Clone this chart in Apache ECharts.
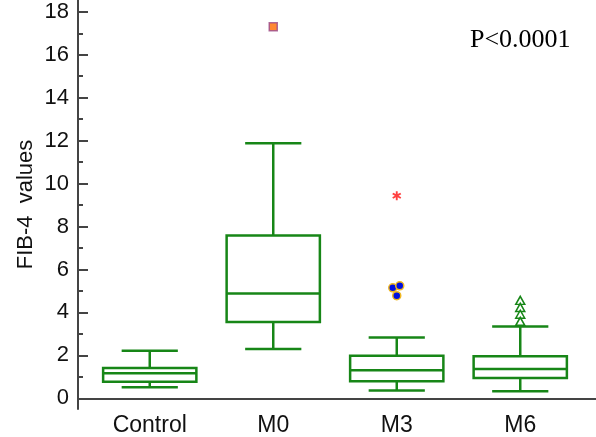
<!DOCTYPE html>
<html style="height: 100%">
<head>
<meta charset="utf-8">
<title>FIB-4</title>
<script src="https://cdn.jsdelivr.net/npm/echarts@6/dist/echarts.min.js"></script>
</head>
<body style="height: 100%; margin: 0; background-color: #fff;">
<div id="container" style="width: 596px; height: 437px;"></div>
<script type="text/javascript">
// groups on the x axis
var groups = ['Control', 'M0', 'M3', 'M6'];
// [lower whisker, Q1, median, Q3, upper whisker]
var boxStats = [
    [0.42, 0.68, 1.08, 1.32, 2.13],
    [2.22, 3.48, 4.81, 7.53, 11.84],
    [0.27, 0.71, 1.22, 1.90, 2.75],
    [0.24, 0.86, 1.28, 1.87, 3.27]
];
// outliers per kind: [group index, value]
var outM0 = [[1, 17.3]];
var outM3far = [[2, 9.39]];
var outM3 = [[2, 5.08], [2, 5.17], [2, 4.71]];
var outM6 = [[3, 4.49], [3, 4.16], [3, 3.84], [3, 3.51]];
var majorTicks = [0, 2, 4, 6, 8, 10, 12, 14, 16, 18];
var minorTicks = [1, 3, 5, 7, 9, 11, 13, 15, 17];

var yMin = -0.5, yMax = 18.55;
var green = '#178617';
var axisColor = '#444';

var boxData = boxStats.map(function (s, i) { return [i].concat(s); });

function renderBox(params, api) {
    var i = api.value(0);
    var band = api.size([1, 0])[0];
    var bw = band * 0.755, cw = band * 0.455;
    var lo = api.coord([i, api.value(1)]);
    var q1 = api.coord([i, api.value(2)]);
    var md = api.coord([i, api.value(3)]);
    var q3 = api.coord([i, api.value(4)]);
    var hi = api.coord([i, api.value(5)]);
    var x = lo[0];
    var st = { stroke: green, lineWidth: 2.5, fill: null };
    return {
        type: 'group',
        children: [
            { type: 'line', shape: { x1: x, y1: hi[1], x2: x, y2: q3[1] }, style: st },
            { type: 'line', shape: { x1: x, y1: q1[1], x2: x, y2: lo[1] }, style: st },
            { type: 'line', shape: { x1: x - cw / 2, y1: hi[1], x2: x + cw / 2, y2: hi[1] }, style: st },
            { type: 'line', shape: { x1: x - cw / 2, y1: lo[1], x2: x + cw / 2, y2: lo[1] }, style: st },
            { type: 'rect', shape: { x: x - bw / 2, y: q3[1], width: bw, height: q1[1] - q3[1] }, style: st },
            { type: 'line', shape: { x1: x - bw / 2, y1: md[1], x2: x + bw / 2, y2: md[1] }, style: st }
        ]
    };
}

var jitter = [[-4, 0], [3, 0], [0, 0]];

var dom = document.getElementById('container');
var myChart = echarts.init(dom);
var option = {
    animation: false,
    title: {
        text: 'P<0.0001',
        left: 470, top: 27, padding: 0,
        textStyle: { fontFamily: 'Liberation Serif', fontSize: 26, fontWeight: 'normal', color: '#000' }
    },
    grid: [
        { left: 88, right: 14, top: 0, bottom: 28 },
        { left: 78, right: 0, top: 0, bottom: 28 }
    ],
    xAxis: [
        {
            type: 'category', gridIndex: 0, data: groups,
            axisLine: { show: false },
            axisTick: { inside: true, length: 11, alignWithLabel: true, lineStyle: { color: axisColor, width: 2 } },
            axisLabel: { fontFamily: 'Liberation Sans', fontSize: 23, color: '#111', margin: 7 },
            splitLine: { show: false }
        },
        {
            type: 'value', gridIndex: 1, min: 0, max: 1,
            axisLine: { show: true, lineStyle: { color: axisColor, width: 2 } },
            axisTick: { show: false }, axisLabel: { show: false }, splitLine: { show: false }
        }
    ],
    yAxis: [
        { type: 'value', gridIndex: 0, min: yMin, max: yMax, show: false },
        {
            type: 'value', gridIndex: 1, position: 'left', min: yMin, max: yMax,
            name: 'FIB-4  values', nameLocation: 'middle', nameGap: 41, nameMoveOverlap: false,
            nameTextStyle: { fontFamily: 'Liberation Sans', fontSize: 22, color: '#111' },
            axisLine: { show: true, lineStyle: { color: axisColor, width: 2 } },
            axisTick: { inside: true, length: 10, customValues: majorTicks, lineStyle: { color: axisColor, width: 2 } },
            axisLabel: { customValues: majorTicks, fontFamily: 'Liberation Sans', fontSize: 22, color: '#111', margin: 9 },
            splitLine: { show: false }
        },
        {
            type: 'value', gridIndex: 1, position: 'left', offset: 0, min: yMin, max: yMax,
            axisLine: { show: false },
            axisTick: { inside: true, length: 5, customValues: minorTicks, lineStyle: { color: axisColor, width: 2 } },
            axisLabel: { show: false },
            splitLine: { show: false }
        }
    ],
    series: [
        {
            type: 'custom', xAxisIndex: 0, yAxisIndex: 0,
            renderItem: renderBox,
            encode: { x: 0, y: [1, 2, 3, 4, 5] },
            data: boxData
        },
        {
            type: 'scatter', xAxisIndex: 0, yAxisIndex: 0,
            symbol: 'rect', symbolSize: 8,
            itemStyle: { color: '#ff6a00', borderColor: '#9a4a8a', borderWidth: 1.5 },
            data: outM0
        },
        {
            type: 'scatter', xAxisIndex: 0, yAxisIndex: 0,
            symbol: 'path://M4,0 L6,0 L6,3.2 L8.8,1.6 L9.8,3.3 L7,5 L9.8,6.7 L8.8,8.4 L6,6.8 L6,10 L4,10 L4,6.8 L1.2,8.4 L0.2,6.7 L3,5 L0.2,3.3 L1.2,1.6 L4,3.2 Z',
            symbolSize: 9,
            itemStyle: { color: '#ff1010' },
            data: outM3far
        },
        {
            type: 'scatter', xAxisIndex: 0, yAxisIndex: 0,
            symbol: 'circle', symbolSize: 8,
            itemStyle: { color: '#0010e0', borderColor: '#f0b820', borderWidth: 1.5, opacity: 1 },
            data: outM3.map(function (d, k) { return { value: d, symbolOffset: jitter[k] }; })
        },
        {
            type: 'scatter', xAxisIndex: 0, yAxisIndex: 0,
            symbol: 'triangle', symbolSize: [9, 8],
            itemStyle: { color: '#fff', borderColor: green, borderWidth: 1.5, opacity: 1 },
            data: outM6
        }
    ]
};
myChart.setOption(option);
</script>
</body>
</html>
